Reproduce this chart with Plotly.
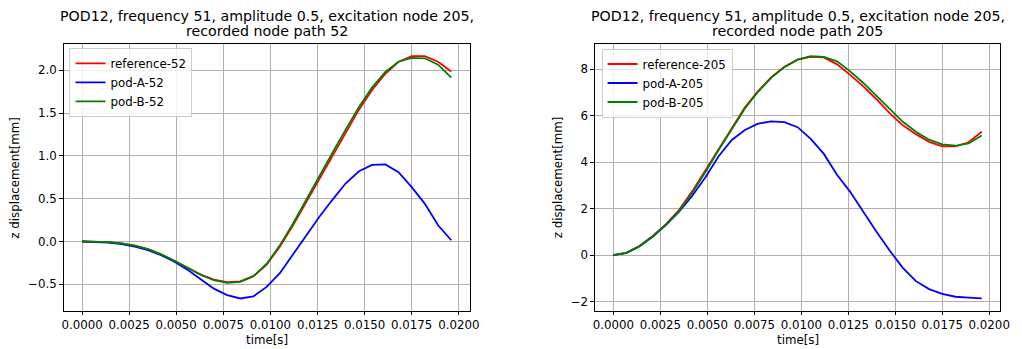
import plotly.graph_objects as go

W, H = 1022, 349

# time axis (s)
time = [round(k * 0.0007, 4) for k in range(29)]

# recorded node 52
ref_52 = [0.000, -0.002, -0.008, -0.022, -0.048, -0.090, -0.150, -0.225, -0.305, -0.385,
          -0.445, -0.475, -0.465, -0.405, -0.270, -0.060, 0.190, 0.460, 0.740, 1.010,
          1.280, 1.540, 1.770, 1.960, 2.100, 2.165, 2.165, 2.100, 1.985]
podA_52 = [0.000, -0.003, -0.012, -0.030, -0.060, -0.100, -0.160, -0.235, -0.330, -0.440,
           -0.550, -0.625, -0.665, -0.640, -0.530, -0.370, -0.150, 0.070, 0.290, 0.490,
           0.680, 0.820, 0.895, 0.900, 0.810, 0.635, 0.440, 0.190, 0.015]
podB_52 = [0.000, -0.002, -0.008, -0.022, -0.048, -0.090, -0.150, -0.225, -0.308, -0.390,
           -0.452, -0.483, -0.472, -0.405, -0.260, -0.045, 0.210, 0.490, 0.770, 1.040,
           1.310, 1.570, 1.800, 1.980, 2.100, 2.145, 2.140, 2.065, 1.915]

# recorded node 205
ref_205 = [0.00, 0.10, 0.40, 0.82, 1.33, 1.95, 2.75, 3.65, 4.60, 5.50,
           6.35, 7.05, 7.65, 8.10, 8.40, 8.52, 8.50, 8.20, 7.75, 7.25,
           6.70, 6.10, 5.58, 5.20, 4.87, 4.68, 4.67, 4.85, 5.30]
podA_205 = [0.00, 0.10, 0.38, 0.80, 1.30, 1.87, 2.55, 3.35, 4.25, 4.95,
            5.38, 5.65, 5.75, 5.72, 5.50, 5.00, 4.35, 3.45, 2.72, 1.85,
            1.00, 0.20, -0.55, -1.12, -1.46, -1.67, -1.79, -1.83, -1.86]
podB_205 = [0.00, 0.10, 0.38, 0.80, 1.30, 1.90, 2.68, 3.57, 4.52, 5.43,
            6.30, 7.02, 7.62, 8.08, 8.40, 8.55, 8.52, 8.33, 7.90, 7.40,
            6.85, 6.27, 5.73, 5.30, 4.96, 4.76, 4.70, 4.80, 5.14]

titles = [("POD12, frequency 51, amplitude 0.5, excitation node 205,", "recorded node path 52"),
          ("POD12, frequency 51, amplitude 0.5, excitation node 205,", "recorded node path 205")]

FONT = "DejaVu Sans"
FS = 11.8
TFS = 14.2

# axes boxes in pixels: (left, right)
boxes = [(62.3, 473.3), (600.0, 1010.0)]
top_px, bot_px = 44.0, 310.7

fig = go.Figure()

def add_series(xa, ya, legend, suffix, ref, a, b):
    for name, ys, col in [("reference-" + suffix, ref, "#ff0000"),
                          ("pod-A-" + suffix, a, "#0000ff"),
                          ("pod-B-" + suffix, b, "#008000")]:
        fig.add_trace(go.Scatter(x=time, y=ys, mode="lines", name=name,
                                 line=dict(color=col, width=1.8),
                                 xaxis=xa, yaxis=ya, legend=legend))

add_series("x", "y", "legend", "52", ref_52, podA_52, podB_52)
add_series("x2", "y2", "legend2", "205", ref_205, podA_205, podB_205)

ydom = [1 - bot_px / H, 1 - top_px / H]

def xax(dom, anchor):
    return dict(domain=dom, anchor=anchor, range=[-0.00098, 0.02058],
                tick0=0, dtick=0.0025, tickformat=".4f",
                showline=True, linecolor="black", linewidth=1, mirror=True,
                ticks="outside", ticklen=3.5, tickcolor="black", tickwidth=1,
                showgrid=True, gridcolor="#b0b0b0", gridwidth=0.8, zeroline=False,
                tickfont=dict(family=FONT, size=FS, color="black"))

def yax(dom, anchor, rng, dtick, fmt):
    return dict(domain=dom, anchor=anchor, range=rng, tick0=0, dtick=dtick, tickformat=fmt,
                showline=True, linecolor="black", linewidth=1, mirror=True,
                ticks="outside", ticklen=3.5, tickcolor="black", tickwidth=1,
                showgrid=True, gridcolor="#b0b0b0", gridwidth=0.8, zeroline=False,
                tickfont=dict(family=FONT, size=FS, color="black"))

xd1 = [boxes[0][0] / W, boxes[0][1] / W]
xd2 = [boxes[1][0] / W, boxes[1][1] / W]

leg_common = dict(xanchor="left", yanchor="top", bgcolor="rgba(255,255,255,0.8)",
                  bordercolor="#cccccc", borderwidth=1, itemwidth=30,
                  font=dict(family=FONT, size=FS, color="black"))

fig.update_layout(
    width=W, height=H, margin=dict(l=0, r=0, t=0, b=0),
    paper_bgcolor="white", plot_bgcolor="white",
    font=dict(family=FONT, size=FS, color="black"),
    xaxis=xax(xd1, "y"), yaxis=yax(ydom, "x", [-0.808, 2.307], 0.5, ".1f"),
    xaxis2=xax(xd2, "y2"), yaxis2=yax(ydom, "x2", [-2.39, 9.075], 2, "d"),
    legend=dict(x=68.3 / W, y=1 - 47.8 / H, **leg_common),
    legend2=dict(x=606.7 / W, y=1 - 48.5 / H, **leg_common),
    showlegend=True,
)

annotations = []
for i, (l1, l2) in enumerate(titles):
    cx = (boxes[i][0] + boxes[i][1]) / 2 / W
    annotations.append(dict(text=l1, x=cx, y=1 - 16.0 / H, xref="paper", yref="paper",
                            xanchor="center", yanchor="middle", showarrow=False,
                            font=dict(family=FONT, size=TFS, color="black")))
    annotations.append(dict(text=l2, x=cx, y=1 - 31.4 / H, xref="paper", yref="paper",
                            xanchor="center", yanchor="middle", showarrow=False,
                            font=dict(family=FONT, size=TFS, color="black")))
    annotations.append(dict(text="time[s]", x=cx, y=1 - 340.4 / H, xref="paper", yref="paper",
                            xanchor="center", yanchor="middle", showarrow=False,
                            font=dict(family=FONT, size=FS, color="black")))
ylab_x = [13.5, 562.5]
for i in range(2):
    annotations.append(dict(text="z displacement[mm]", x=ylab_x[i] / W, y=1 - (top_px + bot_px) / 2 / H,
                            xref="paper", yref="paper", xanchor="center", yanchor="middle",
                            textangle=-90, showarrow=False,
                            font=dict(family=FONT, size=FS, color="black")))
fig.update_layout(annotations=annotations)

fig.write_html("out.html")
